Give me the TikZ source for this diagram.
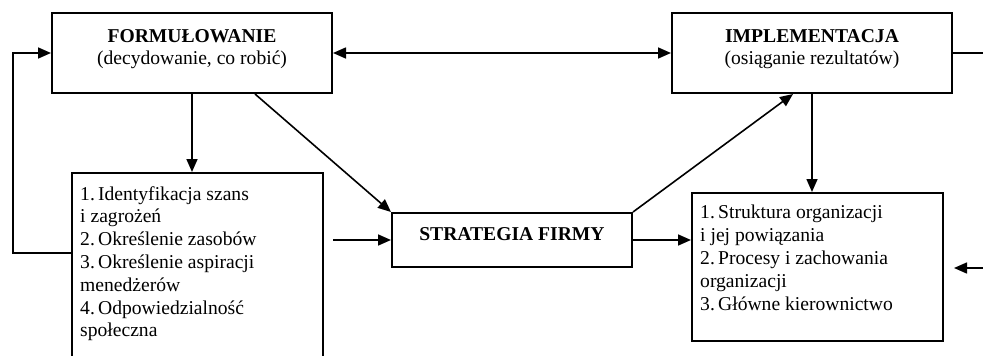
\documentclass[tikz,border=0pt]{standalone}
\usepackage{fontspec}
\setmainfont{Liberation Serif}
\usetikzlibrary{arrows.meta}

\begin{document}
\begin{tikzpicture}[x=1pt, y=-1pt,
  box/.style={draw, line width=2pt, inner sep=0pt},
  txt/.style={inner sep=0pt, font=\fontsize{19.6}{22.8}\selectfont},
  title/.style={txt, align=center, anchor=north},
  lista/.style={txt, align=left, anchor=north west},
  arr/.style={line width=1.6pt, ->, >={Triangle[length=13pt,width=11pt]}}]
\useasboundingbox (0,0) rectangle (983,356);
% ramki
\node[box, minimum width=280pt, minimum height=80pt] (form) at (192,53) {};
\node[box, minimum width=280pt, minimum height=80pt] (impl) at (812,53) {};
\node[box, minimum width=240pt, minimum height=54pt] (strat) at (512,240) {};
\node[box, minimum width=251pt, minimum height=220pt] (kroki) at (197.5,283) {};
\node[box, minimum width=251pt, minimum height=148pt] (wynik) at (817.5,267) {};
% teksty
\node[title] (form-t) at (192,29) {\textbf{FORMUŁOWANIE}\\(decydowanie, co robić)};
\node[title] (impl-t) at (812,29) {\textbf{IMPLEMENTACJA}\\(osiąganie rezultatów)};
\node[txt, anchor=base] (strat-t) at (512,240) {\textbf{STRATEGIA FIRMY}};
\node[lista] (kroki-t) at (80,186) {1.\,Identyfikacja szans\\i zagrożeń\\2.\,Określenie zasobów\\3.\,Określenie aspiracji\\menedżerów\\4.\,Odpowiedzialność\\społeczna};
\node[lista] (wynik-t) at (700,205) {1.\,Struktura organizacji\\i jej powiązania\\2.\,Procesy i zachowania\\organizacji\\3.\,Główne kierownictwo};
% strzalki
\coordinate (petla) at (13,253);
\draw[arr] (kroki.west |- petla) -- (petla) |- (form.west);
\draw[arr] (form.south) -- (form.south |- kroki.north);
\draw[arr] ([xshift=63pt]form.south) -- (strat.north west);
\draw[arr] ([xshift=9pt]kroki.east |- strat.west) -- (strat.west);
\draw[arr] (strat.north east) -- ([xshift=-19pt]impl.south);
\draw[arr] (impl.south) -- (impl.south |- wynik.north);
\draw[arr] (strat.east) -- (strat.east -| wynik.west);
\draw[arr, <->] (form.east) -- (impl.west);
\coordinate (wyjscie) at (995,53);
\draw[line width=1.6pt] (impl.east) -- (wyjscie);
\coordinate (wejscie) at (995,268);
\draw[arr] (wejscie) -- ([xshift=10pt]wynik.east |- wejscie);
\end{tikzpicture}
\end{document}
